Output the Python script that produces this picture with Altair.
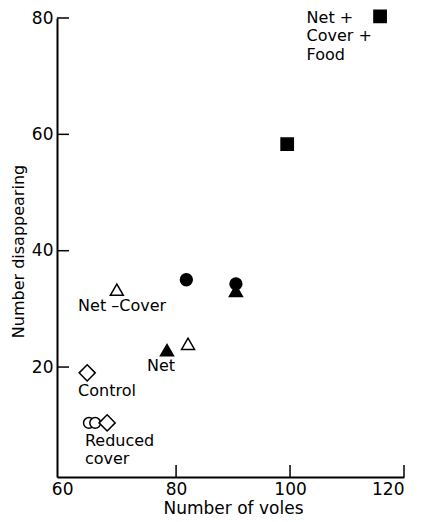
import altair as alt
import pandas as pd

# Data
voles = [115.8, 99.5, 81.8, 90.5, 90.5, 69.6, 82.1, 78.4, 64.4, 64.7, 65.8, 67.9]
disappearing = [80.3, 58.3, 35.0, 33.1, 34.3, 33.3, 24.0, 22.9, 19.0, 10.4, 10.4, 10.4]
symbol = ["filled square", "filled square", "filled circle", "filled triangle", "filled circle",
          "open triangle", "open triangle", "filled triangle", "open diamond",
          "open circle", "open circle", "open diamond"]

label_text = ["Net +", "Cover +", "Food", "Net  \u2013Cover", "Net", "Control", "Reduced", "cover"]
label_x = [102.9, 102.9, 102.9, 62.8, 74.9, 62.8, 64.0, 64.0]
label_y = [80.0, 76.9, 73.7, 30.5, 20.2, 15.9, 7.3, 4.2]

x_ticks = [60, 80, 100, 120]
y_ticks = [20, 40, 60, 80]
x_tick_marks = [80, 100, 120]

# marker styles
SHAPE = {"filled square": "square", "filled circle": "circle", "filled triangle": "triangle-up",
         "open triangle": "triangle-up", "open diamond": "diamond", "open circle": "circle"}
SIZE = {"filled square": 150, "filled circle": 140, "filled triangle": 169,
        "open triangle": 169, "open diamond": 260, "open circle": 115}
FILL = {"filled square": "black", "filled circle": "black", "filled triangle": "black",
        "open triangle": "white", "open diamond": "white", "open circle": "white"}

W, H = 347, 459
FONT = "DejaVu Sans"

pts = pd.DataFrame({"voles": voles, "dis": disappearing, "symbol": symbol, "order": range(len(voles))})
pts["shp"] = pts["symbol"].map(SHAPE)
pts["sz"] = pts["symbol"].map(SIZE)
pts["fl"] = pts["symbol"].map(FILL)
labels = pd.DataFrame({"t": label_text, "x": label_x, "y": label_y})

xscale = alt.Scale(domain=[59.1, 120], nice=False, zero=False)
yscale = alt.Scale(domain=[1.1, 80], nice=False, zero=False)

points = alt.Chart(pts).mark_point(filled=False, strokeWidth=1.5, stroke="black", opacity=1).encode(
    x=alt.X("voles:Q", scale=xscale,
            axis=alt.Axis(values=x_ticks, title="Number  of  voles", ticks=False, grid=False,
                          domainColor="black", domainWidth=2, labelPadding=4, titlePadding=3,
                          titleX=176,
                          labelFont=FONT, labelFontSize=17, labelColor="black",
                          titleFont=FONT, titleFontSize=17, titleFontWeight="normal", titleColor="black")),
    y=alt.Y("dis:Q", scale=yscale,
            axis=alt.Axis(values=y_ticks, title="Number disappearing", ticks=False, grid=False,
                          domainColor="black", domainWidth=2, labelPadding=4, titlePadding=5,
                          titleY=233,
                          labelFont=FONT, labelFontSize=17, labelColor="black",
                          titleFont=FONT, titleFontSize=16, titleFontWeight="normal", titleColor="black")),
    shape=alt.Shape("shp:N", scale=None),
    size=alt.Size("sz:Q", scale=None),
    fill=alt.Fill("fl:N", scale=None),
    order="order:Q",
)

text = alt.Chart(labels).mark_text(align="left", baseline="middle", font=FONT, fontSize=16, color="black").encode(
    x=alt.X("x:Q", scale=xscale),
    y=alt.Y("y:Q", scale=yscale),
    text="t:N",
)

ytick_rules = alt.Chart(pd.DataFrame({"v": y_ticks})).mark_rule(color="black", strokeWidth=1.5).encode(
    y=alt.Y("v:Q", scale=yscale),
    x=alt.value(0),
    x2=alt.value(12),
)

xtick_rules = alt.Chart(pd.DataFrame({"v": x_tick_marks})).mark_rule(color="black", strokeWidth=1.5).encode(
    x=alt.X("v:Q", scale=xscale),
    y=alt.value(H),
    y2=alt.value(H - 12),
)

chart = alt.layer(ytick_rules, xtick_rules, points, text).properties(
    width=W, height=H,
    autosize=alt.AutoSizeParams(type="none"),
    padding={"left": 49, "top": 10, "right": 11, "bottom": 37},
    background="white",
).configure_view(stroke=None)

chart.save("out.html", embed_options={"renderer": "svg", "actions": False})
